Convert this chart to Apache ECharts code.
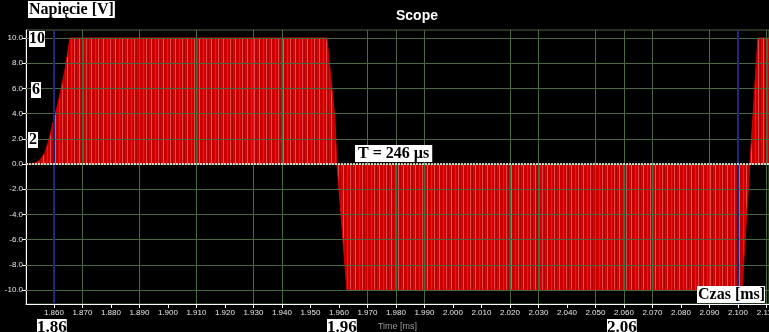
<!DOCTYPE html>
<html>
<head>
<meta charset="utf-8">
<script src="https://cdn.jsdelivr.net/npm/echarts@6/dist/echarts.min.js"></script>
<style>
html,body{margin:0;padding:0;background:#000;}
#c{width:769px;height:332px;}
</style>
</head>
<body>
<div id="c"></div>
<script>
// ---- data ----
const times = [1.8502, 1.8526, 1.8551, 1.8568, 1.8582, 1.8596, 1.8617, 1.8639, 1.8656, 1.9558, 1.9586, 1.9593, 1.9597, 1.9628, 2.1014, 2.1042, 2.1046, 2.1070, 2.1109];
const volts = [0, 0, 0.3, 0.9, 1.9, 3.2, 5.1, 7.5, 10, 10, 3.5, 0, 0, -10, -10, 0, 0, 10, 10];
const xTicks = [1.86,1.87,1.88,1.89,1.90,1.91,1.92,1.93,1.94,1.95,1.96,1.97,1.98,1.99,2.00,2.01,2.02,2.03,2.04,2.05,2.06,2.07,2.08,2.09,2.10,2.11];
const yTicks = [-10,-8,-6,-4,-2,0,2,4,6,8,10];
const gridX = [1.87,1.89,1.91,1.93,1.94,1.97,1.98,1.99,2.02,2.03,2.05,2.06,2.07,2.09,2.10,2.11];
const cursors = [1.8582, 2.1046];
const xMin = 1.8502, xMax = 2.1109, yMin = -11.11, yMax = 10.635;

// stripe texture for the PWM fill
const pc = document.createElement('canvas');
const stripeColors = ['#d40000','#c40000','#e24a4a','#d00000','#b00000','#d80a0a','#cc0000','#e65a5a','#c80000','#a80000','#d40000','#dc2020'];
pc.width = stripeColors.length; pc.height = 4;
const pctx = pc.getContext('2d');
stripeColors.forEach((c,i)=>{pctx.fillStyle=c;pctx.fillRect(i,0,1,4);});

const chart = echarts.init(document.getElementById('c'), null, {renderer:'canvas'});
const gridColor = '#4a6842';
const serif = '"Liberation Serif", "Times New Roman", serif';
function box(text, x, y, size, pad){
  return {type:'text', x:x, y:y, z:100, silent:true,
    style:{text:text, fill:'#000', fontSize:size, fontWeight:'bold', fontFamily:serif,
      backgroundColor:'#fff', padding:pad||[1,1,0,1], verticalAlign:'top', align:'left'}};
}
chart.setOption({
  backgroundColor:'#000',
  animation:false,
  title:{text:'Scope', left:391, top:4, textStyle:{color:'#fff', fontSize:14, fontWeight:'bold', fontFamily:'"Liberation Sans", Arial, sans-serif'}},
  grid:{left:26, right:0, top:30, bottom:28, containLabel:false, outerBoundsMode:'none',
    show:true, borderColor:gridColor, borderWidth:1, backgroundColor:'#000'},
  xAxis:{type:'value', min:xMin, max:xMax,
    name:'Time [ms]', nameLocation:'middle', nameGap:17,
    nameTextStyle:{color:'#9a9a9a', fontSize:9, fontFamily:'"Liberation Sans", Arial, sans-serif'},
    axisLine:{show:true, onZero:false, lineStyle:{color:'#fff', width:1}},
    axisTick:{show:true, length:4, lineStyle:{color:'#fff'}, customValues:xTicks},
    axisLabel:{color:'#e6e6e6', fontSize:8, margin:5, fontFamily:'"Liberation Sans", Arial, sans-serif',
      customValues:xTicks, formatter:v=>v.toFixed(3)},
    splitLine:{show:false}},
  yAxis:{type:'value', min:yMin, max:yMax,
    axisLine:{show:true, onZero:false, lineStyle:{color:'#fff', width:1}},
    axisTick:{show:true, length:4, lineStyle:{color:'#fff'}, customValues:yTicks},
    axisLabel:{color:'#e6e6e6', fontSize:8, margin:3, fontFamily:'"Liberation Sans", Arial, sans-serif',
      customValues:yTicks, formatter:v=>v.toFixed(1)},
    splitLine:{show:false}},
  series:[
    {type:'line', z:1, data:[], silent:true,
      markLine:{silent:true, symbol:'none', label:{show:false}, animation:false,
        lineStyle:{color:gridColor, type:'solid', width:1},
        data: gridX.map(v=>({xAxis:v})).concat(yTicks.map(v=>({yAxis:v})))}},
    {type:'line', z:2, data:[], silent:true,
      markLine:{silent:true, symbol:'none', label:{show:false}, animation:false,
        lineStyle:{color:'#1c2880', type:'solid', width:2},
        data: cursors.map(v=>({xAxis:v}))}},
    {type:'line', z:3, silent:true, symbol:'none', showSymbol:false,
      data: times.map((t,i)=>[t, volts[i]]),
      lineStyle:{color:'#d00000', width:1},
      areaStyle:{origin:'auto', opacity:1, color:{image:pc, repeat:'repeat'}}},
    {type:'line', z:4, data:[], silent:true,
      markLine:{silent:true, symbol:'none', label:{show:false}, animation:false,
        lineStyle:{color:'#ffffff', type:[2,1], width:1.5},
        data:[{yAxis:0}]}}
  ],
  graphic:[
    box('Napięcie [V]', 28, 1, 16),
    box('10', 29, 31, 16, [0,0,0,0]),
    box('6', 31, 82, 16, [0,1,0,1]),
    box('2', 28, 132, 16, [0,1,0,1]),
    box('T = 246 µs', 355, 145, 16, [1,3,0,3]),
    box('Czas [ms]', 697, 286, 16, [1,0,0,1]),
    box('1.86', 37, 319, 17, [0,0,0,0]),
    box('1.96', 327, 319, 17, [0,0,0,0]),
    box('2.06', 607, 319, 17, [0,0,0,0])
  ]
});
</script>
</body>
</html>
